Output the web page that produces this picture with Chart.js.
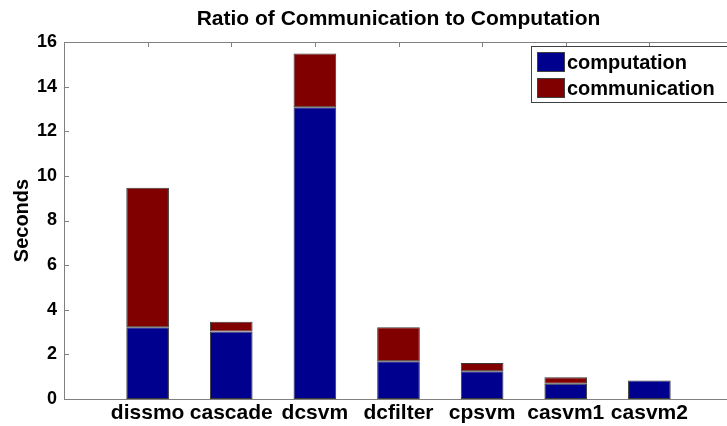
<!DOCTYPE html>
<html>
<head>
<meta charset="utf-8">
<script src="https://cdn.jsdelivr.net/npm/chart.js@4/dist/chart.umd.min.js"></script>
<style>
html,body{margin:0;padding:0;background:#fff;overflow:hidden;width:727px;height:426px;}
#wrap{position:absolute;left:0;top:0;width:745px;height:426px;}
</style>
</head>
<body>
<div id="wrap"><canvas id="c" width="745" height="426"></canvas></div>
<script>
const categories = ['dissmo', 'cascade', 'dcsvm', 'dcfilter', 'cpsvm', 'casvm1', 'casvm2'];
const computation = [3.22, 3.03, 13.08, 1.69, 1.24, 0.68, 0.83];
const communication = [6.25, 0.43, 2.40, 1.53, 0.37, 0.29, 0.0];
const yTicks = [0, 2, 4, 6, 8, 10, 12, 14, 16];
const seriesNames = ['computation', 'communication'];
const titleText = 'Ratio of Communication to Computation';
const yTitle = 'Seconds';

const FONT = "'Liberation Sans', Arial, sans-serif";
const AXIS = '#808080';

// pad with empty slots so the category positions span the whole MATLAB-like axis
const labels = [''].concat(categories, ['']);
const pad = arr => [null].concat(arr, [null]);

const frame = {
  id: 'frame',
  beforeDatasetsDraw(chart) {
    const {ctx, chartArea: a, scales: {x, y}} = chart;
    ctx.save();
    ctx.strokeStyle = AXIS;
    ctx.lineWidth = 1;
    ctx.beginPath();
    ctx.moveTo(a.left, a.top + 0.5); ctx.lineTo(a.right, a.top + 0.5);
    ctx.moveTo(a.right - 0.5, a.top); ctx.lineTo(a.right - 0.5, a.bottom);
    yTicks.forEach(v => {
      const py = Math.round(y.getPixelForValue(v)) + 0.5;
      ctx.moveTo(a.left, py); ctx.lineTo(a.left + 5, py);
      ctx.moveTo(a.right, py); ctx.lineTo(a.right - 5, py);
    });
    categories.forEach((c, i) => {
      const px = Math.round(x.getPixelForValue(i + 1)) + 0.5;
      ctx.moveTo(px, a.top); ctx.lineTo(px, a.top + 5);
      ctx.moveTo(px, a.bottom); ctx.lineTo(px, a.bottom - 5);
    });
    ctx.stroke();
    ctx.restore();
  },
  afterDraw(chart) {
    const {ctx} = chart;
    const ds = chart.data.datasets;
    ctx.save();
    const bx = 531.5, by = 46.5, bw = 210, bh = 56;
    ctx.fillStyle = '#fff';
    ctx.fillRect(bx, by, bw, bh);
    ctx.strokeStyle = '#404040';
    ctx.lineWidth = 1;
    ctx.strokeRect(bx, by, bw, bh);
    ctx.font = 'bold 20px ' + FONT;
    ctx.textBaseline = 'middle';
    ds.forEach((d, i) => {
      const cy = 62 + i * 26;
      ctx.fillStyle = d.backgroundColor;
      ctx.fillRect(537, cy - 10, 28, 20);
      ctx.strokeStyle = '#404040';
      ctx.strokeRect(537.5, cy - 9.5, 27, 19);
      ctx.fillStyle = '#000';
      ctx.fillText(d.label, 567, cy + 1);
    });
    ctx.restore();
  }
};

new Chart(document.getElementById('c'), {
  type: 'bar',
  data: {
    labels: labels,
    datasets: [
      {label: seriesNames[0], data: pad(computation), backgroundColor: '#00008F', borderColor: '#3a3a3a', borderWidth: 1, borderSkipped: false},
      {label: seriesNames[1], data: pad(communication), backgroundColor: '#800000', borderColor: '#3a3a3a', borderWidth: 1, borderSkipped: false}
    ]
  },
  options: {
    responsive: false,
    animation: false,
    events: [],
    layout: {padding: {left: 0, right: 12, top: 0, bottom: 0}},
    datasets: {bar: {categoryPercentage: 1, barPercentage: 0.51}},
    plugins: {
      legend: {display: false},
      tooltip: {enabled: false},
      title: {
        display: true, text: titleText, fullSize: false, color: '#000',
        font: {family: FONT, size: 21, weight: 'bold', lineHeight: 1.2},
        padding: {top: 7, bottom: 9.8}
      }
    },
    scales: {
      x: {
        stacked: true,
        offset: false,
        grid: {display: false, drawTicks: false},
        border: {display: true, color: AXIS, width: 1},
        ticks: {color: '#000', font: {family: FONT, size: 21, weight: 'bold'}, padding: 2, autoSkip: false, maxRotation: 0},
        afterFit(s) { s.height = 27; }
      },
      y: {
        stacked: true,
        min: 0, max: 16,
        grid: {display: false, drawTicks: false},
        border: {display: true, color: AXIS, width: 1},
        afterBuildTicks(s) { s.ticks = yTicks.map(v => ({value: v})); },
        ticks: {color: '#000', font: {family: FONT, size: 18, weight: 'bold'}, padding: 7},
        title: {display: true, text: yTitle, color: '#000', font: {family: FONT, size: 20, weight: 'bold'}, padding: {top: 10, bottom: 0}},
        afterFit(s) { s.width = 64; }
      }
    }
  },
  plugins: [frame]
});
</script>
</body>
</html>
